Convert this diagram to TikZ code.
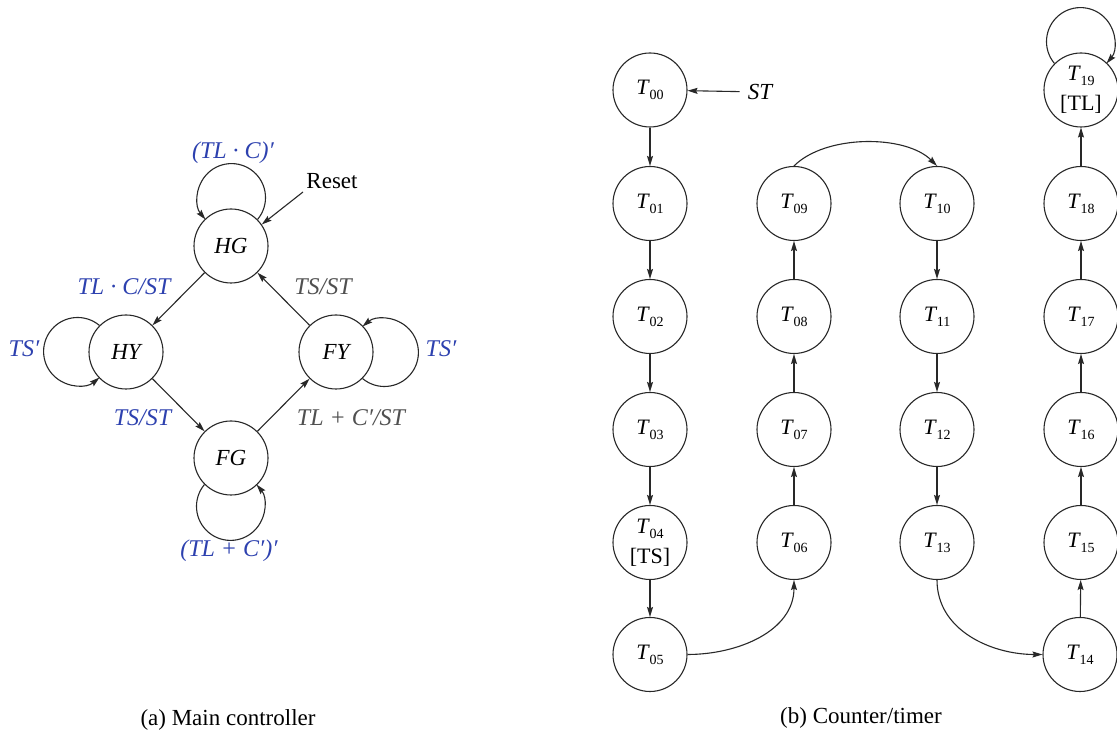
\documentclass[tikz,border=0pt]{standalone}
\usepackage{fontspec}
\setmainfont{Liberation Serif}
\usetikzlibrary{arrows.meta}
\definecolor{lblblue}{RGB}{45,65,175}
\definecolor{lblgray}{RGB}{80,80,80}
\definecolor{ink}{RGB}{40,40,40}
\newcommand\Tn[1]{\textit{T}\kern-0.5pt\raisebox{-5pt}{\fontsize{14}{14}\selectfont #1}}
\begin{document}
\begin{tikzpicture}[x=1pt,y=1pt,
  state/.style={circle, draw=ink, line width=1.1pt, minimum size=74pt, inner sep=0pt,
    font=\fontsize{23}{27}\selectfont\itshape},
  tstate/.style={circle, draw=ink, line width=1.1pt, minimum size=74pt, inner sep=0pt,
    font=\fontsize{22}{30}\selectfont, align=center},
  conn/.style={draw=ink, line width=1.1pt, -{Stealth[length=10pt,width=6pt,inset=1.5pt]}},
  bl/.style={text=lblblue, font=\fontsize{24}{28}\selectfont\itshape, inner sep=0pt},
  gl/.style={text=lblgray, font=\fontsize{24}{28}\selectfont\itshape, inner sep=0pt},
  plain/.style={text=black, font=\fontsize{23}{27}\selectfont, inner sep=0pt},
]
\useasboundingbox[fill=white] (0,0) rectangle (1117,733);

% ---------- (a) Main controller ----------
\node[state] (HG) at (231,487) {HG};
\node[state] (HY) at (126,381) {HY};
\node[state] (FY) at (336,381) {FY};
\node[state] (FG) at (231,275) {FG};

\draw[conn] (HG) -- (HY);
\draw[conn] (HY) -- (FG);
\draw[conn] (FG) -- (FY);
\draw[conn] (FY) -- (HG);

\draw[conn] (HG.45) arc[start angle=-40, end angle=220, radius=34];
\draw[conn] (HY.135) arc[start angle=50, end angle=310, radius=34];
\draw[conn] (FY.-45) arc[start angle=-130, end angle=130, radius=34];
\draw[conn] (FG.-135) arc[start angle=140, end angle=400, radius=34];

\node[plain] (Reset) at (332,552) {Reset};
\coordinate (rs) at (303,541);
\draw[conn] (rs) -- (HG.35);

\node[bl] (lhg) at (233,580) {(TL · C)′};
\node[bl] (lhgy) at (124,446.5) {TL · C/ST};
\node[gl] (lfyg) at (323,446.5) {TS/ST};
\node[bl] (lhy) at (24,384) {TS′};
\node[bl] (lfy) at (441,384) {TS′};
\node[bl] (lhyg) at (142.5,315) {TS/ST};
\node[gl] (lfgy) at (351,315) {TL + C′/ST};
\node[bl] (lfg) at (229,182) {(TL + C′)′};
\node[plain] (capa) at (228,13) {(a) Main controller};

% ---------- (b) Counter/timer ----------
\node[tstate] (T00) at (650,643) {\Tn{00}};
\node[tstate] (T01) at (650,529.5) {\Tn{01}};
\node[tstate] (T02) at (650,416.5) {\Tn{02}};
\node[tstate] (T03) at (650,303.5) {\Tn{03}};
\node[tstate] (T04) at (650,190.5) {\Tn{04}\\{[TS]}};
\node[tstate] (T05) at (650,78.5) {\Tn{05}};
\node[tstate] (T06) at (794,190.5) {\Tn{06}};
\node[tstate] (T07) at (794,303.5) {\Tn{07}};
\node[tstate] (T08) at (794,416.5) {\Tn{08}};
\node[tstate] (T09) at (794,529.5) {\Tn{09}};
\node[tstate] (T10) at (937,529.5) {\Tn{10}};
\node[tstate] (T11) at (937,416.5) {\Tn{11}};
\node[tstate] (T12) at (937,303.5) {\Tn{12}};
\node[tstate] (T13) at (937,190.5) {\Tn{13}};
\node[tstate] (T14) at (1080,78.5) {\Tn{14}};
\node[tstate] (T15) at (1081,190.5) {\Tn{15}};
\node[tstate] (T16) at (1081,303.5) {\Tn{16}};
\node[tstate] (T17) at (1081,416.5) {\Tn{17}};
\node[tstate] (T18) at (1081,529.5) {\Tn{18}};
\node[tstate] (T19) at (1081,643) {\Tn{19}\\{[TL]}};

\node[plain, font=\fontsize{23}{27}\selectfont\itshape, inner xsep=8pt] (ST) at (760,641) {ST};
\draw[conn] (ST) -- (T00);

\draw[conn] (T00) -- (T01);
\draw[conn] (T01) -- (T02);
\draw[conn] (T02) -- (T03);
\draw[conn] (T03) -- (T04);
\draw[conn] (T04) -- (T05);
\draw[conn] (T05.east) to[out=0, in=-90] (T06.south);
\draw[conn] (T06) -- (T07);
\draw[conn] (T07) -- (T08);
\draw[conn] (T08) -- (T09);
\draw[conn] (T09.north) to[out=45, in=135, looseness=0.8] (T10.north);
\draw[conn] (T10) -- (T11);
\draw[conn] (T11) -- (T12);
\draw[conn] (T12) -- (T13);
\draw[conn] (T13.south) to[out=-90, in=180] (T14.west);
\draw[conn] (T14) -- (T15);
\draw[conn] (T15) -- (T16);
\draw[conn] (T16) -- (T17);
\draw[conn] (T17) -- (T18);
\draw[conn] (T18) -- (T19);
\draw[conn] (T19.135) arc[start angle=220, end angle=-40, radius=34];

\node[plain] (capb) at (861,15) {(b) Counter/timer};
\end{tikzpicture}
\end{document}
